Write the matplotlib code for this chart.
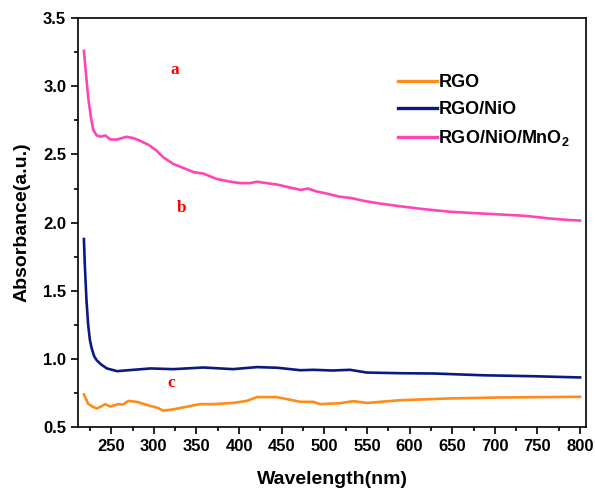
import matplotlib
matplotlib.use('Agg')
import matplotlib.pyplot as plt
from matplotlib.ticker import MultipleLocator

plt.rcParams['font.family'] = ['Liberation Sans', 'DejaVu Sans']
plt.rcParams['mathtext.fontset'] = 'custom'
plt.rcParams['mathtext.rm'] = 'Liberation Sans'
plt.rcParams['mathtext.bf'] = 'Liberation Sans:bold'

# RGO/NiO/MnO2 (curve a)
wl_a = [218, 220, 223, 226, 229, 233, 238, 243, 249, 257, 268, 276, 284, 294, 303, 311,
        323, 335, 347, 358, 374, 390, 401, 413, 421, 432, 444, 458, 472, 481, 490, 505,
        518, 532, 546, 565, 589, 615, 647, 675, 706, 735, 765, 785, 800]
abs_a = [3.26, 3.12, 2.92, 2.78, 2.68, 2.64, 2.63, 2.64, 2.61, 2.61, 2.63, 2.62, 2.60, 2.57, 2.53, 2.48,
         2.43, 2.40, 2.37, 2.36, 2.32, 2.30, 2.29, 2.29, 2.30, 2.29, 2.28, 2.26, 2.24, 2.25, 2.23, 2.21,
         2.19, 2.18, 2.16, 2.14, 2.12, 2.10, 2.08, 2.07, 2.06, 2.05, 2.03, 2.02, 2.015]

# RGO/NiO (curve b)
wl_b = [218, 219, 221, 223, 225, 227, 230, 233, 238, 245, 257, 266, 276, 296, 323, 358,
        393, 421, 445, 472, 487, 510, 530, 550, 590, 628, 686, 745, 800]
abs_b = [1.88, 1.70, 1.43, 1.25, 1.14, 1.08, 1.02, 0.99, 0.96, 0.93, 0.91, 0.915, 0.92, 0.93, 0.925, 0.937,
         0.925, 0.94, 0.935, 0.917, 0.92, 0.915, 0.92, 0.90, 0.895, 0.893, 0.88, 0.873, 0.864]

# RGO (curve c)
wl_c = [218, 223, 228, 233, 238, 243, 249, 258, 264, 270, 280, 296, 305, 311, 323, 335,
        354, 370, 393, 409, 421, 444, 460, 472, 487, 495, 518, 534, 550, 589, 647, 706, 760, 800]
abs_c = [0.74, 0.67, 0.65, 0.636, 0.65, 0.668, 0.65, 0.668, 0.665, 0.692, 0.685, 0.655, 0.64, 0.62, 0.63, 0.645,
         0.668, 0.668, 0.677, 0.692, 0.72, 0.72, 0.70, 0.685, 0.685, 0.668, 0.675, 0.69, 0.677, 0.697, 0.71, 0.717, 0.72, 0.722]

fig = plt.figure(figsize=(5.95, 4.92), dpi=100)
ax = fig.add_axes([0.131, 0.132, 0.854, 0.831])

ax.plot(wl_c, abs_c, color='#FF8C1A', lw=1.9, label='RGO')
ax.plot(wl_b, abs_b, color='#0A1A80', lw=1.9, label='RGO/NiO')
ax.plot(wl_a, abs_a, color='#FF45B5', lw=1.9, label=r'RGO/NiO/MnO$_\mathbf{2}$')

ax.set_xlim(211, 807)
ax.set_ylim(0.5, 3.5)
ax.xaxis.set_major_locator(MultipleLocator(50))
ax.xaxis.set_minor_locator(MultipleLocator(25))
ax.yaxis.set_major_locator(MultipleLocator(0.5))
ax.yaxis.set_minor_locator(MultipleLocator(0.25))
ax.set_xticks(range(250, 801, 50))
ax.tick_params(which='both', direction='out', top=False, right=False, width=1.2)
ax.tick_params(which='major', length=5, labelsize=12)
ax.tick_params(which='minor', length=3)
for lab in ax.get_xticklabels() + ax.get_yticklabels():
    lab.set_fontweight('bold')
for sp in ax.spines.values():
    sp.set_linewidth(1.2)

ax.set_xlabel('Wavelength(nm)', fontsize=14, fontweight='bold', labelpad=12)
ax.set_ylabel('Absorbance(a.u.)', fontsize=14, fontweight='bold', labelpad=9)

for txt, x, y in [('a', 325, 3.12), ('b', 333, 2.11), ('c', 321, 0.82)]:
    ax.text(x, y, txt, color='#FF0000', fontsize=12.5, fontweight='bold',
            family='Liberation Serif', ha='center', va='center')

leg = ax.legend(loc='upper left', bbox_to_anchor=(0.615, 0.88), frameon=False,
                prop={'size': 13, 'weight': 'bold'}, handlelength=2.2, handletextpad=0.05,
                labelspacing=0.55, borderaxespad=0)
for ln in leg.get_lines():
    ln.set_linewidth(2.4)

fig.savefig('out.png', dpi=100)
